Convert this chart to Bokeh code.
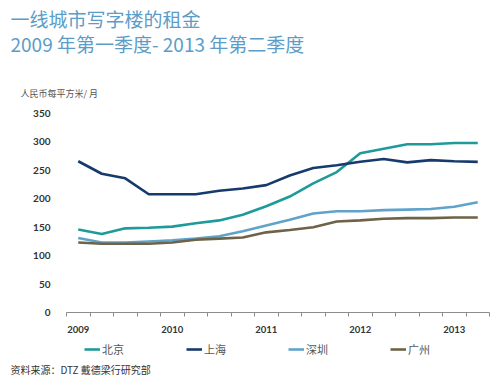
from bokeh.plotting import figure
from bokeh.models import Range1d, FixedTicker, Label, Legend, LegendItem
from bokeh.embed import file_html
from bokeh.resources import INLINE

# 2009 Q1 .. 2013 Q2 (18 quarters)
quarters = list(range(18))
year_ticks = [0, 4, 8, 12, 16]
year_labels = ["2009", "2010", "2011", "2012", "2013"]
y_ticks = [0, 50, 100, 150, 200, 250, 300, 350]

beijing = [146, 138, 148, 149, 151, 157, 162, 172, 187, 204, 227, 247, 280, 288, 296, 296, 298, 298]
shanghai = [266, 244, 236, 208, 208, 208, 214, 218, 224, 241, 254, 259, 265, 270, 264, 268, 266, 265]
shenzhen = [131, 123, 123, 125, 127, 130, 134, 143, 153, 163, 174, 178, 178, 180, 181, 182, 186, 194]
guangzhou = [123, 121, 121, 121, 123, 128, 130, 132, 141, 145, 150, 160, 162, 165, 166, 166, 167, 167]

series_names = ["北京", "上海", "深圳", "广州"]
series_colors = ["#1f9a9a", "#173a6c", "#5fa3cb", "#6e6247"]

CJK = "Noto Sans CJK SC"
NUM = "Lato"

# canvas size and the pixel box of the data area (layout only)
W, H = 496, 378
FL, FR, FT, FB = 66, 489, 113, 312
X0, X1 = -0.5, 17.5
Y0, Y1 = 0, 350
ppx = (FR - FL) / (X1 - X0)
ppy = (FB - FT) / (Y1 - Y0)
x_range = Range1d(X0 - FL / ppx, X1 + (W - FR) / ppx)
y_range = Range1d(Y0 - (H - FB) / ppy, Y1 + FT / ppy)

p = figure(width=W, height=H, output_backend="svg", toolbar_location=None,
           x_range=x_range, y_range=y_range, min_border=0)
p.outline_line_color = None
p.xgrid.grid_line_color = None
p.ygrid.grid_line_color = None
p.background_fill_color = "white"
p.border_fill_color = "white"

renderers = []
for vals, col in zip([beijing, shanghai, shenzhen, guangzhou], series_colors):
    r = p.line(quarters, vals, line_color=col, line_width=2.6)
    renderers.append(r)

# x axis, drawn at y = 0
xa = p.xaxis[0]
xa.fixed_location = Y0
xa.bounds = (X0, X1)
xa.ticker = FixedTicker(ticks=year_ticks, minor_ticks=[q - 0.5 for q in quarters] + [X1])
xa.major_label_overrides = {t: l for t, l in zip(year_ticks, year_labels)}
xa.major_tick_line_color = None
xa.major_tick_out = 0
xa.major_tick_in = 0
xa.minor_tick_line_color = "#8c8c8c"
xa.minor_tick_out = 4
xa.minor_tick_in = 0
xa.axis_line_color = "#8c8c8c"
xa.major_label_standoff = 9
xa.major_label_text_font = NUM
xa.major_label_text_font_size = "9.5px"
xa.major_label_text_color = "#333333"
xa.major_label_text_font_style = "bold"

# y axis, drawn at the left edge of the data area
ya = p.yaxis[0]
ya.fixed_location = X0
ya.bounds = (Y0, Y1)
ya.ticker = FixedTicker(ticks=y_ticks)
ya.axis_line_color = None
ya.major_tick_line_color = None
ya.minor_tick_line_color = None
ya.major_label_standoff = 10
ya.major_label_text_font = NUM
ya.major_label_text_font_size = "10px"
ya.major_label_text_color = "#333333"
ya.major_label_text_font_style = "bold"

# texts (screen px from the bottom-left of the canvas)
def add_text(x, y_from_top, text, size, color, font=CJK):
    p.add_layout(Label(x=x, y=H - y_from_top, x_units="screen", y_units="screen", text=text,
                       text_font=font, text_font_size=size, text_color=color,
                       text_baseline="middle", text_align="left"))

add_text(10, 18, "一线城市写字楼的租金", "19px", "#5b9dc8")
add_text(10, 43, "2009 年第一季度- 2013 年第二季度", "19px", "#5b9dc8")
add_text(20, 93, "人民币每平方米/ 月", "9px", "#555555")
add_text(10, 369, "资料来源：DTZ 戴德梁行研究部", "10px", "#333333")

legend = Legend(items=[LegendItem(label=n, renderers=[r]) for n, r in zip(series_names, renderers)],
                orientation="horizontal", location=(84, H - 350 - 7))
legend.glyph_width = 16
legend.glyph_height = 14
legend.label_standoff = 2
legend.spacing = 62
legend.padding = 0
legend.margin = 0
legend.border_line_color = None
legend.background_fill_alpha = 0
legend.label_text_font = CJK
legend.label_text_font_size = "11px"
legend.label_text_color = "#555555"
legend.label_height = 14
p.add_layout(legend)

open("out.html", "w").write(file_html(p, INLINE))
